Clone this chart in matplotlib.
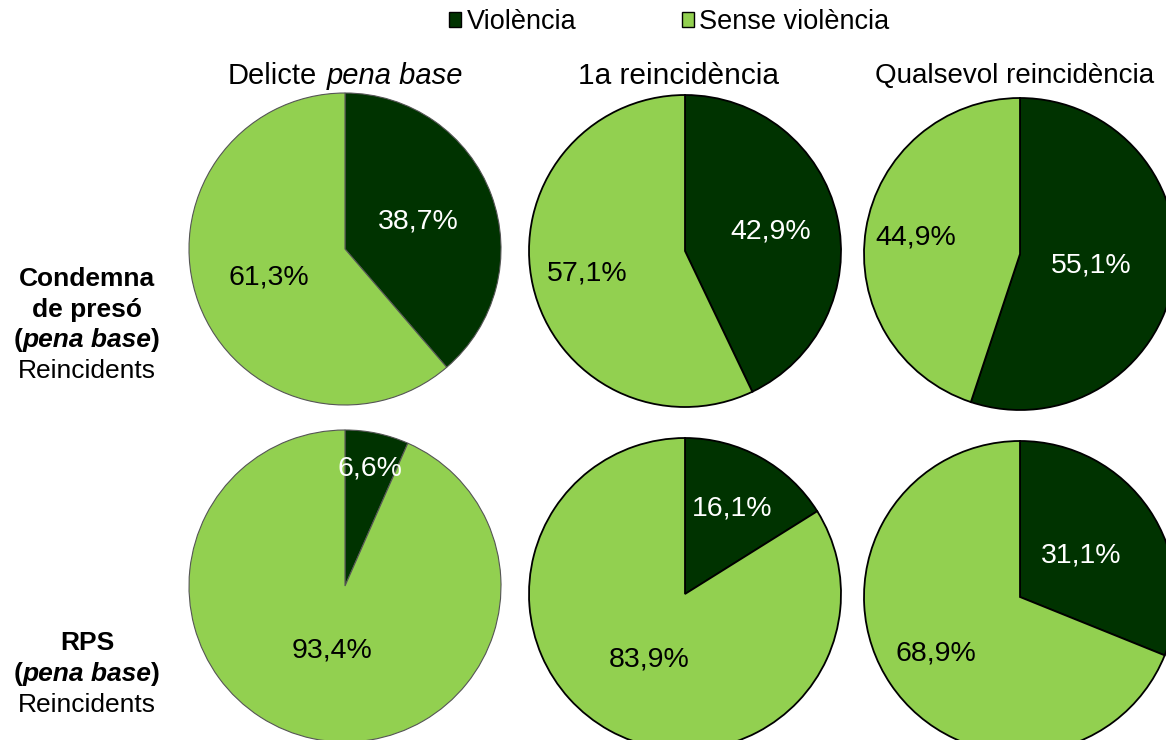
import numpy as np
import matplotlib.pyplot as plt
from matplotlib.patches import Patch
from matplotlib.offsetbox import TextArea, HPacker, VPacker, AnnotationBbox

plt.rcParams['font.family'] = ['Liberation Sans', 'DejaVu Sans']

# data
categories = ["Violència", "Sense violència"]
colors = ["#003300", "#92d050"]
text_colors = ["white", "black"]

col_titles = [("Delicte", "pena base"), ("1a reincidència", None), ("Qualsevol reincidència", None)]
row_first_lines = [["Condemna", "de presó"], ["RPS"]]

prison_violence = [38.7, 42.9, 55.1]
prison_noviolence = [61.3, 57.1, 44.9]
rps_violence = [6.6, 16.1, 31.1]
rps_noviolence = [93.4, 83.9, 68.9]

# label distance from centre (fraction of radius), per pie: (dark, light)
label_dist = [[(0.50, 0.52), (0.56, 0.64), (0.46, 0.68)],
              [(0.77, 0.42), (0.63, 0.48), (0.47, 0.65)]]

W, H = 1166, 740
R = 156
centers = [[(345, 249), (685, 251), (1020, 254)],
           [(345, 586), (685, 594), (1020, 597)]]

fig = plt.figure(figsize=(W / 100, H / 100), dpi=100)
bg = fig.add_axes([0, 0, 1, 1])
bg.axis("off")
bg.set_xlim(0, 1)
bg.set_ylim(0, 1)


def fmt(v):
    return f"{v:.1f}".replace(".", ",") + "%"


def mixed(parts, size, sep=0):
    boxes = []
    for txt, weight, style in parts:
        boxes.append(TextArea(txt, textprops=dict(size=size, weight=weight, style=style)))
    return HPacker(children=boxes, pad=0, sep=sep, align="baseline")


rows = [(prison_violence, prison_noviolence), (rps_violence, rps_noviolence)]
for r, (viol, noviol) in enumerate(rows):
    for c in range(3):
        cx, cy = centers[r][c]
        ax = fig.add_axes([(cx - R) / W, (H - cy - R) / H, 2 * R / W, 2 * R / H])
        edge = "#555555" if c == 0 else "black"
        lw = 0.8 if c == 0 else 1.3
        vals = [viol[c], noviol[c]]
        wedges, _ = ax.pie(vals, colors=colors, startangle=90, counterclock=False,
                           wedgeprops=dict(edgecolor=edge, linewidth=lw))
        ax.set_xlim(-1, 1)
        ax.set_ylim(-1, 1)
        for i, w in enumerate(wedges):
            w.set_clip_on(False)
            ang = np.deg2rad((w.theta1 + w.theta2) / 2)
            d = label_dist[r][c][i]
            ax.text(d * np.cos(ang), d * np.sin(ang), fmt(vals[i]), ha="center", va="center",
                    fontsize=20.5, color=text_colors[i])

# column titles
title_x = [345, 678, 1015]
title_size = [21, 21.5, 20]
for c, (main, ital) in enumerate(col_titles):
    if ital:
        box = mixed([(main, "normal", "normal"), (ital, "normal", "italic")], title_size[c], sep=7)
    else:
        box = mixed([(main, "normal", "normal")], title_size[c])
    ab = AnnotationBbox(box, (title_x[c] / W, 1 - 76 / H), xycoords="figure fraction",
                        frameon=False, box_alignment=(0.5, 0.5), pad=0)
    bg.add_artist(ab)

# row labels
row_y = [325, 674]
for r, first in enumerate(row_first_lines):
    lines = [mixed([(t, "bold", "normal")], 19) for t in first]
    lines.append(mixed([("(", "bold", "normal"), ("pena base", "bold", "italic"),
                        (")", "bold", "normal")], 19))
    lines.append(mixed([("Reincidents", "normal", "normal")], 19))
    box = VPacker(children=lines, pad=0, sep=5, align="center")
    ab = AnnotationBbox(box, (87 / W, 1 - row_y[r] / H), xycoords="figure fraction",
                        frameon=False, box_alignment=(0.5, 0.5), pad=0)
    bg.add_artist(ab)

# legend
handles = [Patch(facecolor=col, edgecolor="black", linewidth=1) for col in colors]
fig.legend(handles, categories, ncol=2, loc="center", bbox_to_anchor=(0.574, 1 - 22 / H),
           frameon=False, fontsize=19.5, handlelength=0.45, handleheight=0.45,
           handletextpad=0.2, columnspacing=3.9, borderpad=0)

fig.savefig("out.png", dpi=100)
